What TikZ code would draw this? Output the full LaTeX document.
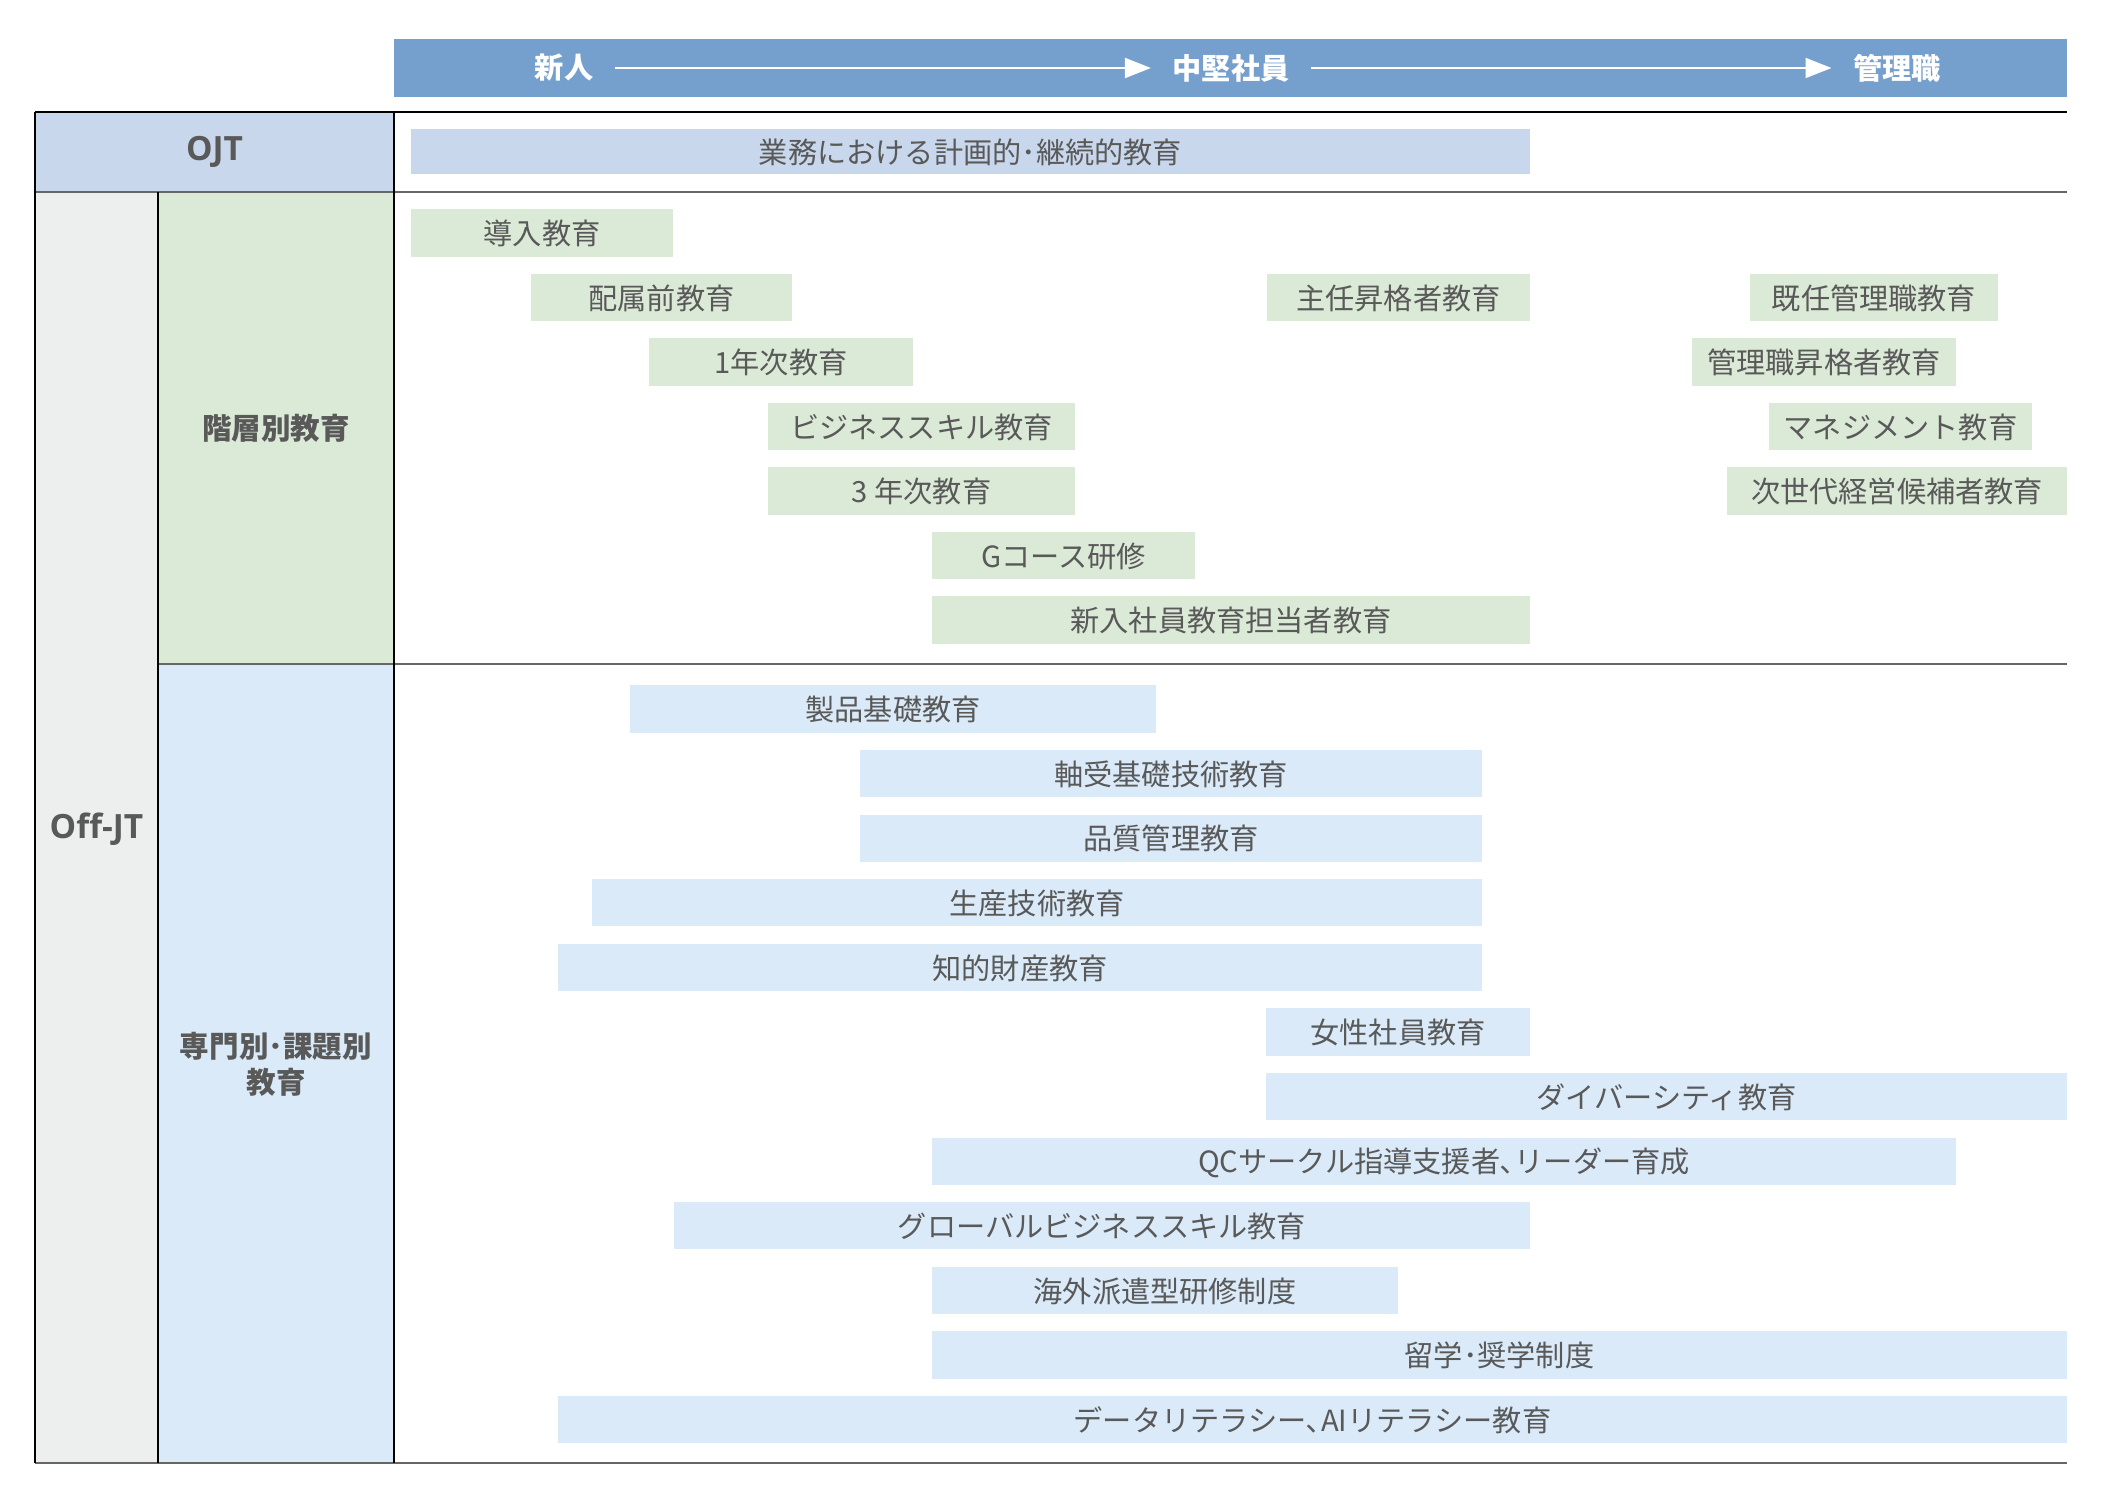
\documentclass[tikz,border=0pt]{standalone}
\usepackage{fontspec}
\setmainfont{Noto Sans CJK JP}
\newfontfamily\latinbold{Open Sans}
\usepackage{tikz}
\usetikzlibrary{positioning,
                arrows.meta}
\definecolor{headblue}{HTML}{759FCC}
\definecolor{ojtblue}{HTML}{C8D7EC}
\definecolor{offgray}{HTML}{EDEEEE}
\definecolor{hiergreen}{HTML}{DBE9D7}
\definecolor{specblue}{HTML}{DAEAF8}
\definecolor{textgray}{HTML}{595959}
\definecolor{rulegray}{HTML}{666666}
\newcommand\barfont{\fontsize{8.3}{10}\selectfont}

\begin{document}
\begin{tikzpicture}[x=0.01cm,y=-0.01cm]

\tikzset{
trainbar/.style={
inner sep=0pt,
minimum height=0.47cm,
text height=0.85em,
text depth=0.19em,
text=textgray,
font=\barfont
},
hierbar/.style={trainbar,fill=hiergreen},
specbar/.style={trainbar,fill=specblue},
stagelabel/.style={
inner xsep=0.21cm,
inner ysep=0pt,
text=white,
font=\barfont\bfseries
},
rowlabel/.style={
align=center,
text=textgray,
font=\fontsize{8.4}{10.2}\selectfont\bfseries
}
}

\useasboundingbox (0,0) rectangle (2102,1500);

%--------------------------------------------------
% HEADER
%--------------------------------------------------

\fill[headblue] (394,39) rectangle (2067,97);

\node[stagelabel] (shinjin) at (564,68) {新人};
\node[stagelabel] (chuken) at (1231,68) {中堅社員};
\node[stagelabel] (kanri) at (1897,68) {管理職};

\draw[white,line width=0.6pt,-{Triangle[length=0.26cm,width=0.2cm]}]
(shinjin) -- (chuken);
\draw[white,line width=0.6pt,-{Triangle[length=0.26cm,width=0.2cm]}]
(chuken) -- (kanri);

%--------------------------------------------------
% TABLE
%--------------------------------------------------

\fill[ojtblue] (35,112) rectangle (394,192);
\fill[offgray] (35,192) rectangle (158,1463);
\fill[hiergreen] (158,192) rectangle (394,664);
\fill[specblue] (158,664) rectangle (394,1463);

\draw[black,line width=0.5pt] (35,112) -- (2067,112);
\draw[rulegray,line width=0.5pt] (35,192) -- (2067,192);
\draw[rulegray,line width=0.5pt] (158,664) -- (2067,664);
\draw[rulegray,line width=0.5pt] (35,1463) -- (2067,1463);
\draw[black,line width=0.5pt] (35,112) -- (35,1463);
\draw[black,line width=0.5pt] (158,192) -- (158,1463);
\draw[black,line width=0.5pt] (394,112) -- (394,1463);

\node[text=textgray,font=\latinbold\fontsize{9.5}{11}\selectfont\bfseries]
(ojt) at (214.5,152) {OJT};
\node[text=textgray,font=\latinbold\fontsize{9.5}{11}\selectfont\bfseries]
(offjt) at (96.5,829) {Off-JT};
\node[rowlabel] (kaisou) at (276,428) {階層別教育};
\node[rowlabel] (senmon) at (276,1064) {専門別･課題別\\教育};

%--------------------------------------------------
% OJT
%--------------------------------------------------

\node[trainbar,fill=ojtblue,minimum width=11.19cm,minimum height=0.45cm]
(keikaku) at (970.5,151.5) {業務における計画的･継続的教育};

%--------------------------------------------------
% HIERARCHY
%--------------------------------------------------

\node[hierbar,minimum width=2.62cm] (dounyu) at (542,233) {導入教育};
\node[hierbar,minimum width=2.61cm] (haizoku) at (661.5,297.5) {配属前教育};
\node[hierbar,minimum width=2.63cm] (shunin) at (1398.5,297.5) {主任昇格者教育};
\node[hierbar,minimum width=2.48cm] (kinin) at (1874,297.5) {既任管理職教育};
\node[hierbar,minimum width=2.64cm] (nen1) at (781,362) {1年次教育};
\node[hierbar,minimum width=2.64cm] (kanrisho) at (1824,362) {管理職昇格者教育};
\node[hierbar,minimum width=3.07cm] (bizskill) at (921.5,426.5) {ビジネススキル教育};
\node[hierbar,minimum width=2.63cm] (manage) at (1900.5,426.5) {マネジメント教育};
\node[hierbar,minimum width=3.07cm] (nen3) at (921.5,491) {3 年次教育};
\node[hierbar,minimum width=3.40cm] (jisedai) at (1897,491) {次世代経営候補者教育};
\node[hierbar,minimum width=2.63cm] (gcourse) at (1063.5,555.5) {Gコース研修};
\node[hierbar,minimum width=5.98cm] (tantou) at (1231,620) {新入社員教育担当者教育};

%--------------------------------------------------
% SPECIALTY
%--------------------------------------------------

\node[specbar,minimum width=5.26cm] (seihin) at (893,709) {製品基礎教育};
\node[specbar,minimum width=6.22cm] (jikuuke) at (1171,773.6) {軸受基礎技術教育};
\node[specbar,minimum width=6.22cm] (hinshitsu) at (1171,838.2) {品質管理教育};
\node[specbar,minimum width=8.90cm] (seisan) at (1037,902.8) {生産技術教育};
\node[specbar,minimum width=9.24cm] (chiteki) at (1020,967.4) {知的財産教育};
\node[specbar,minimum width=2.64cm] (josei) at (1398,1032) {女性社員教育};
\node[specbar,minimum width=8.01cm] (diversity) at (1666.5,1096.6) {ダイバーシティ教育};
\node[specbar,minimum width=10.24cm] (qc) at (1444,1161.2) {QCサークル指導支援者､リーダー育成};
\node[specbar,minimum width=8.56cm] (global) at (1102,1225.8) {グローバルビジネススキル教育};
\node[specbar,minimum width=4.66cm] (kaigai) at (1165,1290.4) {海外派遣型研修制度};
\node[specbar,minimum width=11.35cm] (ryugaku) at (1499.5,1355) {留学･奨学制度};
\node[specbar,minimum width=15.09cm] (data) at (1312.5,1419.6) {データリテラシー､AIリテラシー教育};

\end{tikzpicture}
\end{document}
